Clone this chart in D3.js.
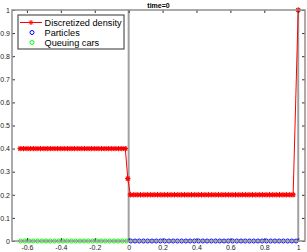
<!DOCTYPE html>
<html>
<head>
<meta charset="utf-8">
<script src="https://cdn.jsdelivr.net/npm/d3@7"></script>
<style>
  html, body { margin: 0; padding: 0; background: #fff; }
  svg { display: block; font-family: "Liberation Sans", Arial, sans-serif; }
</style>
</head>
<body>
<svg id="chart" width="307" height="252"></svg>
<script>
const title = "time=0";

const xTicks = [-0.6, -0.4, -0.2, 0, 0.2, 0.4, 0.6, 0.8, 1];
const xTickLabels = ["-0.6", "-0.4", "-0.2", "0", "0.2", "0.4", "0.6", "0.8", "1"];
const yTicks = [0, 0.1, 0.2, 0.3, 0.4, 0.5, 0.6, 0.7, 0.8, 0.9, 1];
const yTickLabels = ["0", "0.1", "0.2", "0.3", "0.4", "0.5", "0.6", "0.7", "0.8", "0.9", "1"];

// road boundaries drawn as gray vertical lines
const roadEnds = [0, 1];

const densityX = [
  -0.64, -0.62, -0.60, -0.58, -0.56, -0.54, -0.52, -0.50, -0.48, -0.46, -0.44,
  -0.42, -0.40, -0.38, -0.36, -0.34, -0.32, -0.30, -0.28, -0.26, -0.24, -0.22,
  -0.20, -0.18, -0.16, -0.14, -0.12, -0.10, -0.08, -0.06, -0.04, -0.02,
  -0.005,
  0.01, 0.03, 0.05, 0.07, 0.09, 0.11, 0.13, 0.15, 0.17, 0.19, 0.21, 0.23, 0.25,
  0.27, 0.29, 0.31, 0.33, 0.35, 0.37, 0.39, 0.41, 0.43, 0.45, 0.47, 0.49, 0.51,
  0.53, 0.55, 0.57, 0.59, 0.61, 0.63, 0.65, 0.67, 0.69, 0.71, 0.73, 0.75, 0.77,
  0.79, 0.81, 0.83, 0.85, 0.87, 0.89, 0.91, 0.93, 0.95, 0.97,
  1.0
];
const densityY = [
  0.4, 0.4, 0.4, 0.4, 0.4, 0.4, 0.4, 0.4, 0.4, 0.4, 0.4,
  0.4, 0.4, 0.4, 0.4, 0.4, 0.4, 0.4, 0.4, 0.4, 0.4, 0.4,
  0.4, 0.4, 0.4, 0.4, 0.4, 0.4, 0.4, 0.4, 0.4, 0.4,
  0.27,
  0.2, 0.2, 0.2, 0.2, 0.2, 0.2, 0.2, 0.2, 0.2, 0.2, 0.2, 0.2, 0.2,
  0.2, 0.2, 0.2, 0.2, 0.2, 0.2, 0.2, 0.2, 0.2, 0.2, 0.2, 0.2, 0.2,
  0.2, 0.2, 0.2, 0.2, 0.2, 0.2, 0.2, 0.2, 0.2, 0.2, 0.2, 0.2, 0.2,
  0.2, 0.2, 0.2, 0.2, 0.2, 0.2, 0.2, 0.2, 0.2, 0.2,
  1.0
];

const particlesX = [
  0.0125, 0.0375, 0.0625, 0.0875, 0.1125, 0.1375, 0.1625, 0.1875, 0.2125, 0.2375,
  0.2625, 0.2875, 0.3125, 0.3375, 0.3625, 0.3875, 0.4125, 0.4375, 0.4625, 0.4875,
  0.5125, 0.5375, 0.5625, 0.5875, 0.6125, 0.6375, 0.6625, 0.6875, 0.7125, 0.7375,
  0.7625, 0.7875, 0.8125, 0.8375, 0.8625, 0.8875, 0.9125, 0.9375, 0.9625, 0.9875
];
const particlesY = [
  0, 0, 0, 0, 0, 0, 0, 0, 0, 0, 0, 0, 0, 0, 0, 0, 0, 0, 0, 0,
  0, 0, 0, 0, 0, 0, 0, 0, 0, 0, 0, 0, 0, 0, 0, 0, 0, 0, 0, 0
];

const queueX = [
  -0.6375, -0.6125, -0.5875, -0.5625, -0.5375, -0.5125, -0.4875, -0.4625, -0.4375,
  -0.4125, -0.3875, -0.3625, -0.3375, -0.3125, -0.2875, -0.2625, -0.2375, -0.2125,
  -0.1875, -0.1625, -0.1375, -0.1125, -0.0875, -0.0625, -0.0375, -0.0125
];
const queueY = [
  0, 0, 0, 0, 0, 0, 0, 0, 0, 0, 0, 0, 0,
  0, 0, 0, 0, 0, 0, 0, 0, 0, 0, 0, 0, 0
];

const legendLabels = ["Discretized density", "Particles", "Queuing cars"];
const seriesColors = ["#ff0000", "#0000ff", "#00ff00"];

const svg = d3.select("#chart");
const plotLeft = 12, plotRight = 305, plotTop = 10, plotBottom = 241;

const x = d3.scaleLinear().domain([-0.688, 1.04]).range([plotLeft, plotRight]);
const y = d3.scaleLinear().domain([0, 1]).range([plotBottom, plotTop]);

// star marker like matlab '*'
function star(cx, cy, r) {
  const d = r * 0.72;
  return `M${cx - r},${cy}H${cx + r}M${cx},${cy - r}V${cy + r}` +
    `M${cx - d},${cy - d}L${cx + d},${cy + d}M${cx - d},${cy + d}L${cx + d},${cy - d}`;
}

// road boundaries
svg.append("g")
  .selectAll("line")
  .data(roadEnds)
  .join("line")
  .attr("x1", d => x(d)).attr("x2", d => x(d))
  .attr("y1", plotTop).attr("y2", plotBottom)
  .attr("stroke", "#a0a0a0")
  .attr("stroke-width", 2);

// Data
const density = densityX.map((v, i) => [v, densityY[i]]);
svg.append("path")
  .datum(density)
  .attr("fill", "none")
  .attr("stroke", seriesColors[0])
  .attr("stroke-width", 1)
  .attr("d", d3.line().x(d => x(d[0])).y(d => y(d[1])));

svg.append("path")
  .attr("fill", "none")
  .attr("stroke", seriesColors[0])
  .attr("stroke-width", 1.1)
  .attr("d", density.map(d => star(x(d[0]), y(d[1]), 2.7)).join(""));

svg.append("g")
  .attr("fill", "none")
  .attr("stroke", seriesColors[1])
  .attr("stroke-width", 1)
  .selectAll("circle")
  .data(particlesX.map((v, i) => [v, particlesY[i]]))
  .join("circle")
  .attr("cx", d => x(d[0]))
  .attr("cy", d => y(d[1]))
  .attr("r", 2);

svg.append("g")
  .attr("fill", "none")
  .attr("stroke", seriesColors[2])
  .attr("stroke-width", 1)
  .selectAll("circle")
  .data(queueX.map((v, i) => [v, queueY[i]]))
  .join("circle")
  .attr("cx", d => x(d[0]))
  .attr("cy", d => y(d[1]))
  .attr("r", 2);

// Axes (ticks inward on all four sides)
function styleAxis(g) {
  g.select(".domain").remove();
  g.selectAll(".tick line").attr("stroke", "#333");
  g.selectAll(".tick text")
    .attr("fill", "#222")
    .style("font-size", "7px")
    .style("font-family", "'Liberation Sans', Arial, sans-serif");
}

svg.append("g")
  .attr("transform", `translate(0,${plotBottom})`)
  .call(d3.axisBottom(x).tickValues(xTicks)
    .tickFormat((d, i) => xTickLabels[i]).tickSize(-3).tickPadding(4.5))
  .call(styleAxis);
svg.append("g")
  .attr("transform", `translate(0,${plotTop})`)
  .call(d3.axisTop(x).tickValues(xTicks).tickFormat("").tickSize(-3))
  .call(styleAxis);
svg.append("g")
  .attr("transform", `translate(${plotLeft},0)`)
  .call(d3.axisLeft(y).tickValues(yTicks)
    .tickFormat((d, i) => yTickLabels[i]).tickSize(-3).tickPadding(2))
  .call(styleAxis);
svg.append("g")
  .attr("transform", `translate(${plotRight},0)`)
  .call(d3.axisRight(y).tickValues(yTicks).tickFormat("").tickSize(-3))
  .call(styleAxis);

// box
svg.append("rect")
  .attr("x", plotLeft).attr("y", plotTop)
  .attr("width", plotRight - plotLeft).attr("height", plotBottom - plotTop)
  .attr("fill", "none")
  .attr("stroke", "#909090")
  .attr("stroke-width", 1.5);

// Title
svg.append("text")
  .attr("x", (plotLeft + plotRight) / 2)
  .attr("y", 7.5)
  .attr("text-anchor", "middle")
  .style("font-size", "7px")
  .style("font-weight", "bold")
  .text(title);

// Legend
const legend = svg.append("g").attr("transform", "translate(18,15)");
legend.append("rect")
  .attr("width", 106).attr("height", 34)
  .attr("fill", "#fff")
  .attr("stroke", "#333")
  .attr("stroke-width", 1);

const rows = legend.selectAll("g.row")
  .data(legendLabels)
  .join("g")
  .attr("class", "row")
  .attr("transform", (d, i) => `translate(0,${7.5 + i * 10})`);

rows.append("text")
  .attr("x", 26.5)
  .attr("y", 3.3)
  .style("font-size", "9.2px")
  .attr("fill", "#000")
  .text(d => d);

legend.append("line")
  .attr("x1", 2).attr("x2", 24).attr("y1", 7.5).attr("y2", 7.5)
  .attr("stroke", seriesColors[0]);
legend.append("path")
  .attr("fill", "none")
  .attr("stroke", seriesColors[0])
  .attr("d", star(13, 7.5, 2.5));
rows.filter((d, i) => i > 0)
  .append("circle")
  .attr("cx", 14).attr("cy", 0).attr("r", 2)
  .attr("fill", "none")
  .attr("stroke", (d, i) => seriesColors[i + 1]);
</script>
</body>
</html>
